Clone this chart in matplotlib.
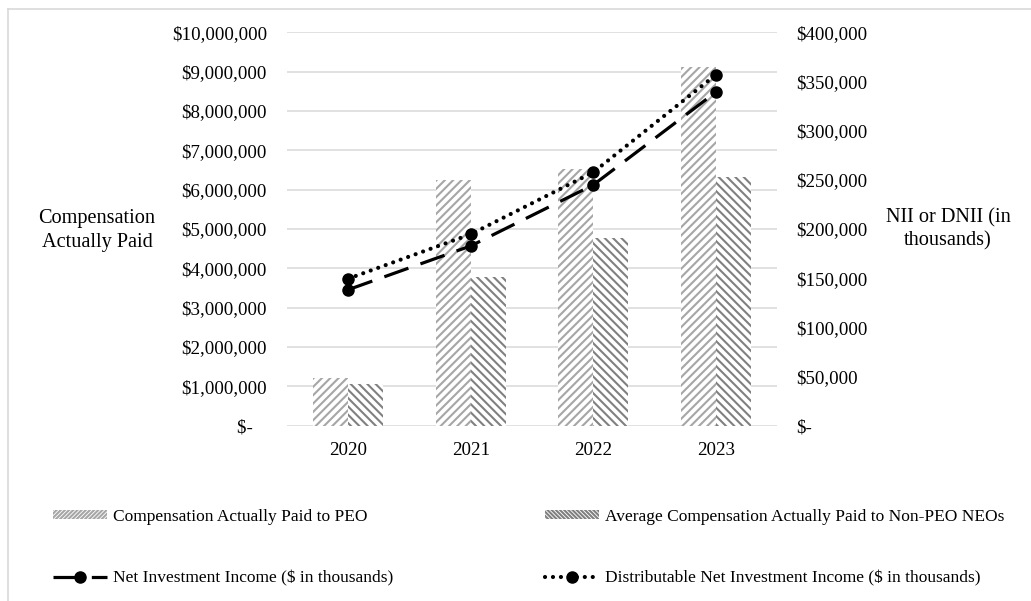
import matplotlib
matplotlib.use("Agg")
import matplotlib.pyplot as plt
import numpy as np
from matplotlib.lines import Line2D
from matplotlib.patches import Patch

plt.rcParams['font.family'] = ['Liberation Serif', 'DejaVu Serif']
plt.rcParams['hatch.linewidth'] = 1.5

years = ["2020", "2021", "2022", "2023"]
peo_cap = [1220000, 6250000, 6530000, 9120000]
neo_cap = [1060000, 3770000, 4770000, 6320000]
nii = [138300, 182800, 244800, 339100]
dnii = [149500, 194700, 257700, 356700]

left_ticks = [0, 1000000, 2000000, 3000000, 4000000, 5000000, 6000000,
              7000000, 8000000, 9000000, 10000000]
right_ticks = [0, 50000, 100000, 150000, 200000, 250000, 300000, 350000, 400000]

label_peo = "Compensation Actually Paid to PEO"
label_neo = "Average Compensation Actually Paid to Non-PEO NEOs"
label_nii = "Net Investment Income ($ in thousands)"
label_dnii = "Distributable Net Investment Income ($ in thousands)"

W, H = 1031, 601
fig = plt.figure(figsize=(W / 100, H / 100), dpi=100)
ax = fig.add_axes([287 / W, 1 - 425.7 / H, (777 - 287) / W, (425.7 - 32.3) / H])
ax2 = ax.twinx()

x = np.arange(len(years))
bw = 0.286
peo_col = '#a6a6a6'
neo_col = '#808080'
ax.bar(x - bw / 2, peo_cap, bw, facecolor='white', edgecolor=peo_col,
       hatch='////', linewidth=0, zorder=2)
ax.bar(x + bw / 2, neo_cap, bw, facecolor='white', edgecolor=neo_col,
       hatch='\\\\\\\\', linewidth=0, zorder=2)

ax.set_xlim(-0.5, len(years) - 0.5)
ax.set_ylim(0, 10000000)
ax2.set_ylim(0, 400000)
ax.set_yticks(left_ticks)
ax.set_yticklabels([("$-   " if v == 0 else "${:,.0f}".format(v)) for v in left_ticks])
ax2.set_yticks(right_ticks)
ax2.set_yticklabels([("$-" if v == 0 else "${:,.0f}".format(v)) for v in right_ticks])
ax.set_xticks(x)
ax.set_xticklabels(years)

for a in (ax, ax2):
    for s in a.spines.values():
        s.set_visible(False)
ax.grid(axis='y', color='#d9d9d9', linewidth=1.1, zorder=0)
ax.set_axisbelow(True)
ax.tick_params(axis='y', length=0, pad=14.5, labelsize=13.6, colors='black')
ax.tick_params(axis='x', length=0, pad=12, labelsize=13.6)
ax2.tick_params(axis='y', length=0, pad=14, labelsize=13.6)

ln1, = ax2.plot(x, nii, color='black', linewidth=2.3, linestyle=(0, (8, 4)),
                marker='o', markersize=8, zorder=4, dash_capstyle='butt')
ln2, = ax2.plot(x, dnii, color='black', linewidth=3.0, linestyle=(0, (0.01, 1.9)),
                marker='o', markersize=8, zorder=4, dash_capstyle='round')

fig.text(97 / W, 1 - 230.5 / H, "Compensation\nActually Paid", ha='center', va='center',
         fontsize=14.6, linespacing=1.32)
fig.text(948 / W, 1 - 229 / H, "NII or DNII (in\nthousands)", ha='center', va='center',
         fontsize=14.6, linespacing=1.28)

# figure border (top and left)
fig.add_artist(Line2D([8 / W, 1], [1 - 9 / H, 1 - 9 / H], color='#d9d9d9', linewidth=1.2,
                      transform=fig.transFigure))
fig.add_artist(Line2D([8 / W, 8 / W], [0, 1 - 9 / H], color='#d9d9d9', linewidth=1.2,
                      transform=fig.transFigure))

h_peo = Patch(facecolor='white', edgecolor=peo_col, hatch='////////', linewidth=0)
h_neo = Patch(facecolor='white', edgecolor=neo_col, hatch='\\\\\\\\\\\\\\\\', linewidth=0)
h_nii = Line2D([], [], color='black', linewidth=2.3, linestyle=(0, (8, 4)),
               marker='o', markersize=8)
h_dnii = Line2D([], [], color='black', linewidth=3.0, linestyle=(0, (0.01, 1.9)),
                marker='o', markersize=8, dash_capstyle='round')

entries = [
    (h_peo, label_peo, 53, 517),
    (h_neo, label_neo, 545, 517),
    (h_nii, label_nii, 53, 578),
    (h_dnii, label_dnii, 545, 578),
]
for h, lab, px, py in entries:
    lg = fig.legend([h], [lab], loc='center left', bbox_to_anchor=(px / W, 1 - py / H),
                    frameon=False, fontsize=12.5, handlelength=3.1, handleheight=0.45,
                    handletextpad=0.35, borderpad=0, borderaxespad=0, numpoints=1)

fig.savefig("out.png", dpi=100)
